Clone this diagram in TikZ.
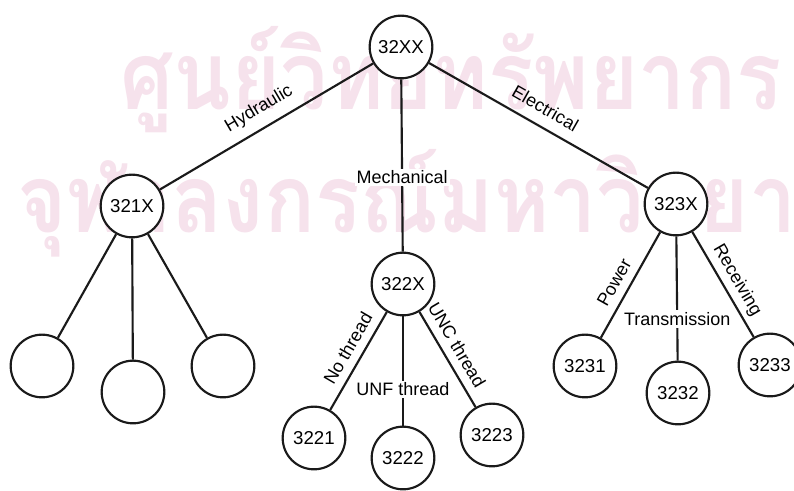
\documentclass[tikz,border=0pt]{standalone}
\usepackage{fontspec}
\setmainfont{Liberation Sans}
\newfontfamily\thaifont[Script=Thai]{Loma}
\usetikzlibrary{positioning}
\definecolor{codeink}{HTML}{1A1A1A}
\definecolor{stamppink}{RGB}{246,226,236}
\tikzset{
  codenode/.style={circle,draw=codeink,line width=1.6pt,fill=white,minimum size=47pt,inner sep=0pt,font=\fontsize{14}{16}\selectfont},
  codeline/.style={draw=codeink,line width=1.6pt},
  codelbl/.style={sloped,font=\fontsize{13.5}{15}\selectfont,inner sep=2pt},
  cutlbl/.style={fill=white,font=\fontsize{13.5}{15}\selectfont,inner sep=1.5pt},
  stamp/.style={text=stamppink,font=\thaifont\bfseries\fontsize{71}{71}\selectfont,inner sep=0pt,anchor=base west,xscale=0.89}
}

\begin{document}
\begin{tikzpicture}[x=0.75pt,y=-0.75pt]
\useasboundingbox (0,0) rectangle (794,491);
% library stamp behind the tree
\node[stamp] (st1) at (120,110) {ศูนย์วิทยทรัพยากร};
\node[stamp] (st2) at (17,233) {จุฬาลงกรณ์มหาวิทยาลัย};
% groups
\node[codenode] (top) at (401,47) {32XX};
\node[codenode] (hyd) at (132,206) {321X};
\node[codenode] (mech) at (403,284) {322X};
\node[codenode] (elec) at (676,204) {323X};
% leaves
\node[codenode] (hyd1) at (42,366) {};
\node[codenode] (hyd2) at (133,392) {};
\node[codenode] (hyd3) at (223,366) {};
\node[codenode] (mech1) at (314,438) {3221};
\node[codenode] (mech2) at (403,458) {3222};
\node[codenode] (mech3) at (492,435) {3223};
\node[codenode] (elec1) at (585,366) {3231};
\node[codenode] (elec2) at (678,393) {3232};
\node[codenode] (elec3) at (770,365) {3233};
% branches
\draw[codeline] (hyd) -- node[codelbl,above=5pt,pos=0.51]{Hydraulic} (top);
\draw[codeline] (top) -- node[cutlbl,pos=0.57]{Mechanical} (mech);
\draw[codeline] (top) -- node[codelbl,above=6pt,pos=0.49]{Electrical} (elec);
\foreach \c in {hyd1,hyd2,hyd3}{\draw[codeline] (hyd) -- (\c);}
\draw[codeline] (mech1) -- node[codelbl,above=4pt,pos=0.55]{No thread} (mech);
\draw[codeline] (mech) -- node[cutlbl,pos=0.67]{UNF thread} (mech2);
\draw[codeline] (mech) -- node[codelbl,above=4pt,pos=0.43]{UNC thread} (mech3);
\draw[codeline] (elec1) -- node[codelbl,above=4pt,pos=0.45]{Power} (elec);
\draw[codeline] (elec) -- node[cutlbl,pos=0.665]{Transmission} (elec2);
\draw[codeline] (elec) -- node[codelbl,above=1.5pt,pos=0.53]{Receiving} (elec3);
\end{tikzpicture}
\end{document}
